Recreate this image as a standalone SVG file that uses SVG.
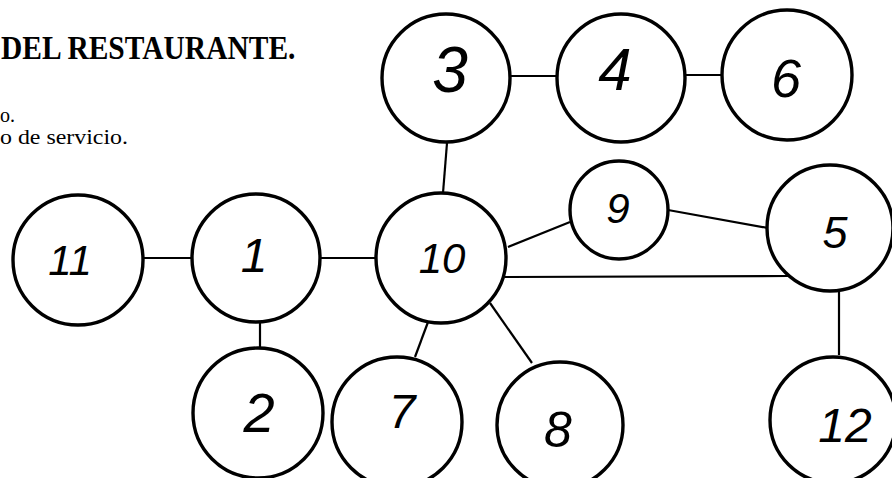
<svg xmlns="http://www.w3.org/2000/svg" width="892" height="484" viewBox="0 0 892 484">
<style>
.n{fill:none;stroke:#000;stroke-width:3.4}
.e{stroke:#000;stroke-width:2.2;fill:none}
.d{font-family:"Liberation Sans","DejaVu Sans",sans-serif;font-style:italic;fill:#000;text-anchor:middle}
.t{font-family:"Liberation Serif","Times New Roman",serif;fill:#000}
</style>
<defs><clipPath id="cl"><rect x="0" y="0" width="892" height="478"/></clipPath></defs>
<rect width="892" height="484" fill="#fff"/>
<g id="title">
<text class="t" transform="translate(1,59) scale(1,1.12)" font-size="29.5" font-weight="bold">DEL RESTAURANTE.</text>
<text class="t" transform="translate(0,122) scale(1,1.15)" font-size="18" textLength="15" lengthAdjust="spacingAndGlyphs">o.</text>
<text class="t" transform="translate(0,144) scale(1,1.15)" font-size="18" textLength="128" lengthAdjust="spacingAndGlyphs">o de servicio.</text>
</g>
<g id="connectors">
<line class="e" x1="510" y1="76" x2="557" y2="76"/>
<line class="e" x1="685" y1="75" x2="722" y2="75"/>
<line class="e" x1="447" y1="143" x2="443" y2="193"/>
<line class="e" x1="143" y1="258" x2="192" y2="258"/>
<line class="e" x1="320" y1="258" x2="377" y2="258"/>
<line class="e" x1="260" y1="323" x2="260" y2="348"/>
<line class="e" x1="428" y1="322" x2="415" y2="357"/>
<line class="e" x1="490" y1="303" x2="532" y2="363"/>
<line class="e" x1="508" y1="247" x2="570" y2="222"/>
<line class="e" x1="668" y1="210" x2="768" y2="228"/>
<line class="e" x1="505" y1="277" x2="788" y2="276"/>
<line class="e" x1="839" y1="292" x2="839" y2="355"/>
</g>
<g clip-path="url(#cl)">
<g id="n3"><circle class="n" cx="446" cy="78" r="64"/><text class="d" x="450" y="92" font-size="64">3</text></g>
<g id="n4"><circle class="n" cx="621" cy="78" r="64"/><text class="d" x="615" y="90" font-size="60">4</text></g>
<g id="n6"><circle class="n" cx="787" cy="75" r="65"/><text class="d" x="786" y="97" font-size="54">6</text></g>
<g id="n11"><circle class="n" cx="78" cy="260" r="65"/><text class="d" x="70" y="275" font-size="42">11</text></g>
<g id="n1"><circle class="n" cx="256" cy="258" r="64"/><text class="d" x="254" y="272" font-size="48">1</text></g>
<g id="n10"><circle class="n" cx="441" cy="258" r="65"/><text class="d" x="442" y="273" font-size="42">10</text></g>
<g id="n9"><circle class="n" cx="619" cy="210" r="49"/><text class="d" x="618" y="223" font-size="42">9</text></g>
<g id="n5"><circle class="n" cx="830" cy="228" r="63"/><text class="d" x="835" y="248" font-size="45">5</text></g>
<g id="n2"><circle class="n" cx="258" cy="413" r="65"/><text class="d" x="259" y="432" font-size="56">2</text></g>
<g id="n7"><circle class="n" cx="397" cy="422" r="65"/><text class="d" x="402" y="428" font-size="48">7</text></g>
<g id="n8"><circle class="n" cx="560" cy="425" r="63"/><text class="d" x="558" y="447" font-size="50">8</text></g>
<g id="n12"><circle class="n" cx="833" cy="420" r="63"/><text class="d" x="845" y="442" font-size="48">12</text></g>
</g>
</svg>
